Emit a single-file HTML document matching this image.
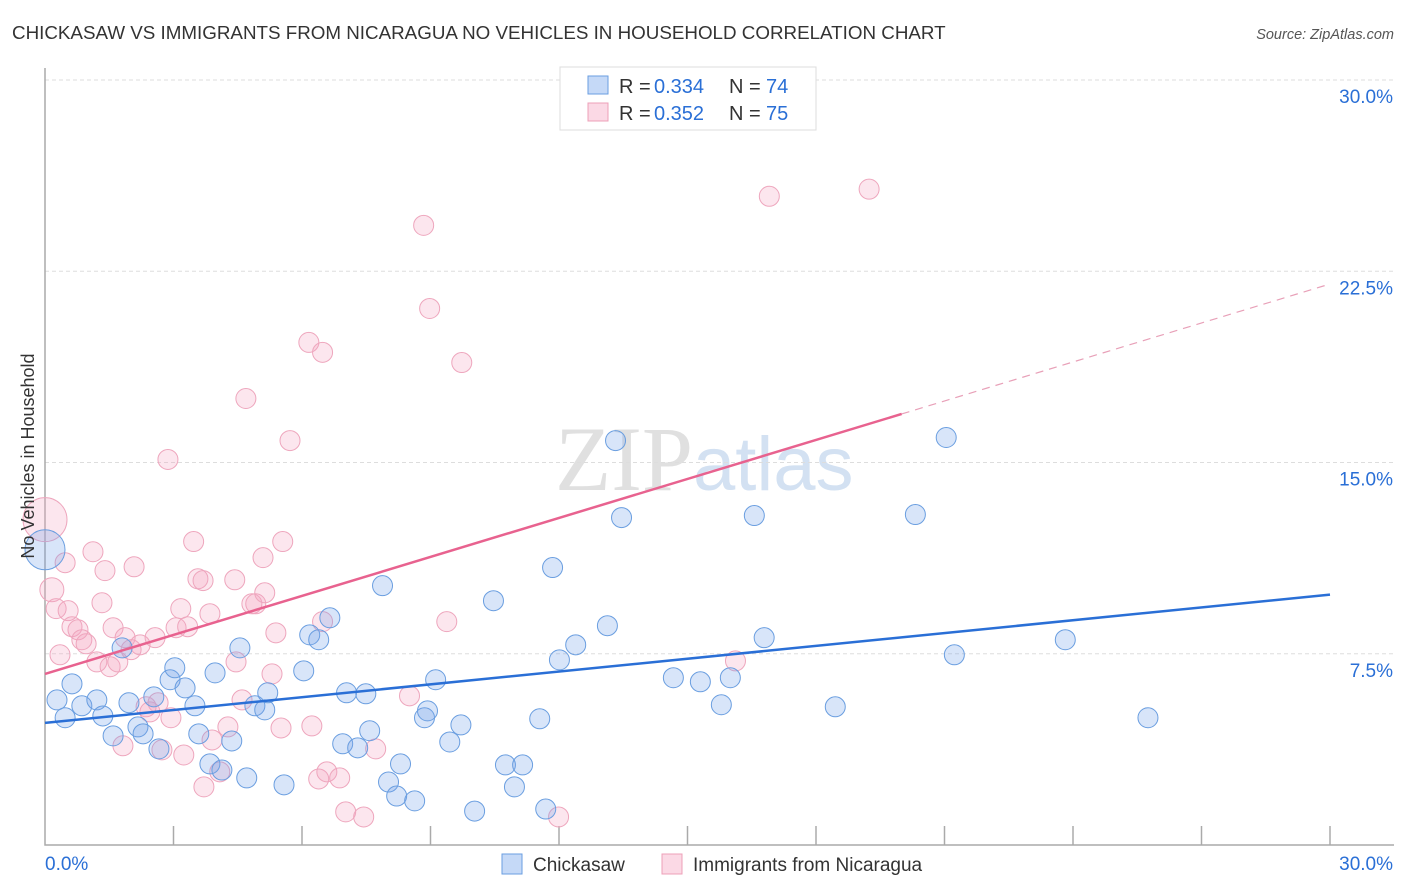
<!DOCTYPE html>
<html><head><meta charset="utf-8"><style>
body{margin:0;background:#fff;font-family:"Liberation Sans",sans-serif;}
svg{display:block}
</style></head><body>
<svg id="chart" width="1406" height="892" xmlns="http://www.w3.org/2000/svg" font-family="Liberation Sans, sans-serif">
<text x="12" y="39" font-size="18.8" fill="#333">CHICKASAW VS IMMIGRANTS FROM NICARAGUA NO VEHICLES IN HOUSEHOLD CORRELATION CHART</text>
<text x="1394" y="39" font-size="14.5" fill="#555" font-style="italic" text-anchor="end">Source: ZipAtlas.com</text>
<text x="555" y="490" font-size="92" fill="#e0e0e0" font-family="Liberation Serif, serif">ZIP<tspan fill="#d3e1f2" font-family="Liberation Sans, sans-serif" font-size="76">atlas</tspan></text>
<g id="grid"></g>
<g id="axes"></g>
<g id="pts"></g>
<g id="trends"></g>
<text transform="translate(34,456) rotate(-90)" font-size="18" fill="#333" text-anchor="middle">No Vehicles in Household</text>
<g>
<rect x="560" y="67" width="256" height="63" fill="#fff" stroke="#ddd"/>
<rect x="588" y="76" width="20" height="18" fill="rgba(110,160,235,0.4)" stroke="#6a9ee0"/>
<rect x="588" y="103" width="20" height="18" fill="rgba(245,160,190,0.4)" stroke="#eea0b8"/>
<text y="93" font-size="20" fill="#333"><tspan x="619">R = </tspan><tspan x="654" fill="#2a6fd6">0.334</tspan><tspan x="729">N = </tspan><tspan x="766" fill="#2a6fd6">74</tspan></text>
<text y="120" font-size="20" fill="#333"><tspan x="619">R = </tspan><tspan x="654" fill="#2a6fd6">0.352</tspan><tspan x="729">N = </tspan><tspan x="766" fill="#2a6fd6">75</tspan></text>
</g>
<g>
<rect x="502" y="854" width="20" height="20" fill="rgba(110,160,235,0.4)" stroke="#6a9ee0"/>
<text x="533" y="871" font-size="19" fill="#333">Chickasaw</text>
<rect x="662" y="854" width="20" height="20" fill="rgba(245,160,190,0.4)" stroke="#eea0b8"/>
<text x="693" y="871" font-size="19" fill="#333">Immigrants from Nicaragua</text>
</g>
</svg>
<script>
const yTicks=[7.5,15.0,22.5,30.0];
const yTickLabels=["7.5%","15.0%","22.5%","30.0%"];
const xTickCount=10;
const xLabels=["0.0%","30.0%"];
const blueX=[0,0.28,0.47,0.63,0.86,1.21,1.35,1.59,1.80,1.96,2.17,2.29,2.54,2.66,2.92,3.03,3.27,3.50,3.59,3.85,3.97,4.13,4.36,4.55,4.71,4.90,5.13,5.20,5.58,6.04,6.18,6.39,6.65,6.95,7.04,7.30,7.49,7.58,7.88,8.02,8.21,8.30,8.63,8.86,8.93,9.12,9.45,9.71,10.03,10.47,10.75,10.96,11.15,11.55,11.69,11.85,12.01,12.39,13.13,13.32,13.46,14.67,15.30,15.79,16.00,16.56,16.79,18.45,20.32,21.04,21.23,23.82,25.75];
const blueY=[11.58,5.69,4.99,6.32,5.46,5.69,5.06,4.28,7.73,5.58,4.63,4.36,5.81,3.77,6.48,6.95,6.16,5.46,4.36,3.18,6.75,2.94,4.08,7.73,2.63,5.46,5.30,5.97,2.36,6.83,8.24,8.05,8.91,3.97,5.97,3.81,5.93,4.48,10.17,2.47,1.92,3.18,1.73,4.99,5.26,6.48,4.04,4.71,1.33,9.58,3.14,2.28,3.14,4.95,1.41,10.88,7.26,7.85,8.60,15.86,12.84,6.56,6.40,5.50,6.56,12.92,8.13,5.42,12.96,15.98,7.46,8.05,4.99];
const pinkX=[0,0.16,0.26,0.47,0.54,0.35,0.63,0.77,0.86,0.96,1.12,1.21,1.33,1.40,1.52,1.59,1.70,1.82,1.87,2.01,2.08,2.22,2.36,2.45,2.57,2.64,2.73,2.87,2.94,3.06,3.17,3.24,3.33,3.47,3.57,3.69,3.71,3.85,3.90,4.08,4.27,4.46,4.43,4.60,4.69,4.83,4.92,5.09,5.13,5.30,5.39,5.51,5.55,5.72,6.16,6.23,6.39,6.48,6.48,6.58,6.88,7.02,7.44,7.72,8.51,8.84,8.98,9.38,9.73,11.99,16.12,16.91,19.24];
const pinkY=[12.76,10.01,9.27,11.07,9.19,7.46,8.56,8.44,8.05,7.89,11.50,7.18,9.50,10.76,6.99,8.52,7.18,3.89,8.13,7.66,10.91,7.85,5.42,5.22,8.13,5.58,3.73,15.12,4.99,8.52,9.27,3.53,8.56,11.90,10.44,10.37,2.28,9.07,4.12,2.87,4.63,7.18,10.40,5.69,17.51,9.46,9.46,11.27,9.89,6.71,8.32,4.59,11.90,15.86,19.71,4.67,2.59,19.32,8.76,2.87,2.63,1.30,1.10,3.77,5.85,24.30,21.04,8.76,18.92,1.10,7.22,25.44,25.72];
const blueTrend=[4.79,9.82];
const pinkTrend=[6.71,22.0];
const pinkSolidEnd=20.0;

const NS="http://www.w3.org/2000/svg";
const X0=45,X1=1330,Y0=845,Y1=80,XMAX=30,YMAX=30;
function sx(v){return X0+(X1-X0)*v/XMAX;}
function sy(v){return Y0-(Y0-Y1)*v/YMAX;}
function mk(tag,attrs,parent){const e=document.createElementNS(NS,tag);for(const k in attrs)e.setAttribute(k,attrs[k]);parent.appendChild(e);return e;}
const grid=document.getElementById('grid'),axes=document.getElementById('axes'),trends=document.getElementById('trends'),pts=document.getElementById('pts');
yTicks.forEach((t,i)=>{
 const l=mk('line',{x1:X0,x2:1393,y1:sy(t),y2:sy(t),stroke:'#ddd','stroke-dasharray':'4,3'},grid);
 
 
 const tx=mk('text',{x:1393,y:sy(t)+23,'font-size':19,fill:'#2a6fd6','text-anchor':'end'},grid);
 tx.textContent=yTickLabels[i];
 
 
});
const ax=mk('path',{d:`M${X0},68 V${Y0} H${X1+64}`,stroke:'#aaa',fill:'none','stroke-width':1.5},axes);


for(let i=1;i<=xTickCount;i++){
 const x=sx(XMAX*i/xTickCount);
 const tk=mk('line',{x1:x,x2:x,y1:Y0-19,y2:Y0,stroke:'#aaa','stroke-width':1.5},axes);
 
 
}
const xl0=mk('text',{x:45,y:870,'font-size':19,fill:'#2a6fd6'},axes);xl0.textContent=xLabels[0];


const xl1=mk('text',{x:1393,y:870,'font-size':19,fill:'#2a6fd6','text-anchor':'end'},axes);xl1.textContent=xLabels[1];



function drawPts(xs,ys,fill,stroke,name){
 xs.forEach((x,i)=>{
  let r=10;if(i===0)r=ys[i]>12?22:20;
  if(name==='nicaragua-point'&&i===1)r=12;
  const c=mk('circle',{cx:sx(x),cy:sy(ys[i]),r:r,fill:fill,stroke:stroke,'stroke-width':1},pts);
  
  
 });
}
drawPts(pinkX,pinkY,'rgba(245,165,195,0.28)','#eea6bd','nicaragua-point');
drawPts(blueX,blueY,'rgba(115,160,235,0.28)','#6a9ee0','chickasaw-point');

const bt=mk('line',{x1:sx(0),y1:sy(blueTrend[0]),x2:sx(30),y2:sy(blueTrend[1]),stroke:'#2a6fd6','stroke-width':2.5},trends);


const pAt=v=>pinkTrend[0]+(pinkTrend[1]-pinkTrend[0])*v/30;
const pt=mk('line',{x1:sx(0),y1:sy(pinkTrend[0]),x2:sx(pinkSolidEnd),y2:sy(pAt(pinkSolidEnd)),stroke:'#e8628f','stroke-width':2.5},trends);


const pd=mk('line',{x1:sx(pinkSolidEnd),y1:sy(pAt(pinkSolidEnd)),x2:sx(30),y2:sy(pinkTrend[1]),stroke:'#e8a0b8','stroke-width':1.2,'stroke-dasharray':'8,6'},trends);


</script>
</body></html>
